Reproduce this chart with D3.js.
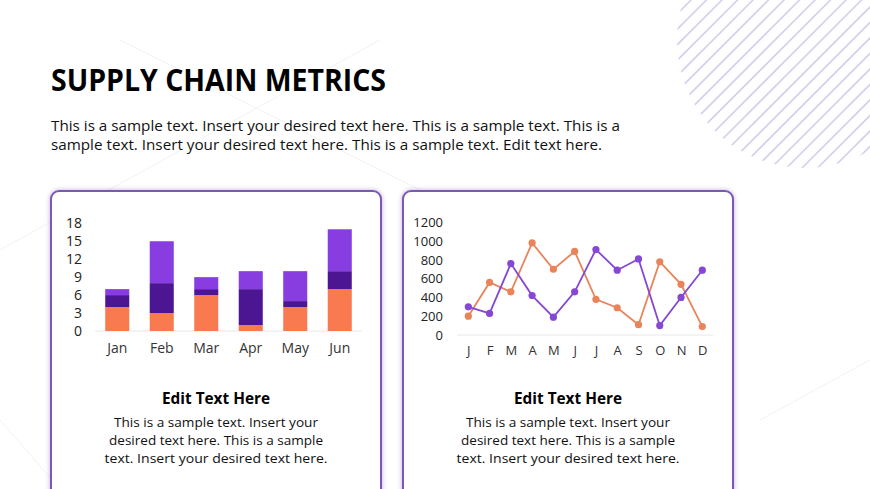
<!DOCTYPE html>
<html>
<head>
<meta charset="utf-8">
<script src="https://cdn.jsdelivr.net/npm/d3@7"></script>
<style>
  body { margin: 0; background: #fff; }
  svg { display: block; font-family: "Open Sans", "Noto Sans", sans-serif; }
</style>
</head>
<body>
<script>
var barMonths = ["Jan", "Feb", "Mar", "Apr", "May", "Jun"],
    barOrange = [4, 3, 6, 1, 4, 7],
    barDark = [2, 5, 1, 6, 1, 3],
    barLight = [1, 7, 2, 3, 5, 7],
    barTicks = [0, 3, 6, 9, 12, 15, 18];

var lineMonths = ["J", "F", "M", "A", "M", "J", "J", "A", "S", "O", "N", "D"],
    lineOrange = [200, 560, 460, 980, 700, 890, 380, 290, 110, 780, 540, 90],
    linePurple = [300, 230, 760, 420, 190, 460, 910, 690, 810, 100, 400, 690],
    lineTicks = [0, 200, 400, 600, 800, 1000, 1200];

var w = 870,
    h = 489;

var svg = d3.select("body")
    .append("svg")
    .attr("width", w)
    .attr("height", h);

var defs = svg.append("defs");
defs.append("clipPath")
    .attr("id", "circleClip")
    .append("circle")
    .attr("cx", 805)
    .attr("cy", 40)
    .attr("r", 128);

var shadow = defs.append("filter")
    .attr("id", "glow")
    .attr("x", "-10%").attr("y", "-10%")
    .attr("width", "120%").attr("height", "120%");
shadow.append("feDropShadow")
    .attr("dx", 0).attr("dy", 0)
    .attr("stdDeviation", 2.5)
    .attr("flood-color", "#b49ad8")
    .attr("flood-opacity", 0.8);

// faint background lines
var faint = [[0, 250, 380, 40], [120, 40, 560, 260], [330, 310, 180, 420], [520, 330, 720, 489], [0, 420, 60, 489], [760, 420, 870, 360]];
svg.selectAll(".faint")
    .data(faint)
    .enter()
    .append("line")
    .attr("x1", function (d) { return d[0]; })
    .attr("y1", function (d) { return d[1]; })
    .attr("x2", function (d) { return d[2]; })
    .attr("y2", function (d) { return d[3]; })
    .attr("stroke", "#f2f2f2")
    .attr("stroke-width", 1);

// striped circle top right
var stripes = svg.append("g").attr("clip-path", "url(#circleClip)");
for (var k = 0; k < 30; k++) {
    var off = 660 + k * 15.5;
    stripes.append("line")
        .attr("x1", off - 200)
        .attr("y1", 200)
        .attr("x2", off + 20)
        .attr("y2", -20)
        .attr("stroke", "#d6cfec")
        .attr("stroke-width", 1.6);
}

// title and intro
svg.append("text")
    .attr("x", 51)
    .attr("y", 91)
    .attr("font-size", 30)
    .attr("font-weight", 700)
    .attr("fill", "#000")
    .attr("textLength", 335)
    .attr("lengthAdjust", "spacingAndGlyphs")
    .text("SUPPLY CHAIN METRICS");

var intro = [
    ["This is a sample text. Insert your desired text here. This is a sample text. This is a", 569],
    ["sample text. Insert your desired text here. This is a sample text. Edit text here.", 551]
];
svg.selectAll(".intro")
    .data(intro)
    .enter()
    .append("text")
    .attr("x", 51)
    .attr("y", function (d, i) { return 130.5 + i * 19.5; })
    .attr("font-size", 14.5)
    .attr("fill", "#111")
    .attr("textLength", function (d) { return d[1]; })
    .attr("lengthAdjust", "spacingAndGlyphs")
    .text(function (d) { return d[0]; });

// cards
var cards = [51, 403];
svg.selectAll(".card")
    .data(cards)
    .enter()
    .append("rect")
    .attr("x", function (d) { return d; })
    .attr("y", 191)
    .attr("width", 330)
    .attr("height", 330)
    .attr("rx", 8)
    .attr("fill", "#fff")
    .attr("stroke", "#7d58b3")
    .attr("stroke-width", 2)
    .attr("filter", "url(#glow)");

var cardBody = [
    ["This is a sample text. Insert your", 204],
    ["desired text here. This is a sample", 214],
    ["text. Insert your desired text here.", 223]
];
cards.forEach(function (cx) {
    var mid = cx + 165;
    svg.append("text")
        .attr("x", mid)
        .attr("y", 404)
        .attr("text-anchor", "middle")
        .attr("font-size", 16)
        .attr("font-weight", 700)
        .attr("fill", "#000")
        .attr("textLength", 108)
        .attr("lengthAdjust", "spacingAndGlyphs")
        .text("Edit Text Here");
    cardBody.forEach(function (d, i) {
        svg.append("text")
            .attr("x", mid)
            .attr("y", 427 + i * 18)
            .attr("text-anchor", "middle")
            .attr("font-size", 13.5)
            .attr("fill", "#111")
            .attr("textLength", d[1])
            .attr("lengthAdjust", "spacingAndGlyphs")
            .text(d[0]);
    });
});

// stacked bar chart
var xBar = d3.scaleBand()
    .domain(barMonths)
    .range([95, 362])
    .paddingInner(0.46)
    .paddingOuter(0.23);

var yBar = d3.scaleLinear()
    .domain([0, 18])
    .range([331, 223.3]);

var barRows = barMonths.map(function (m, i) {
    return { month: m, orange: barOrange[i], dark: barDark[i], light: barLight[i] };
});
var stack = d3.stack().keys(["orange", "dark", "light"])(barRows);
var barColors = { orange: "#fa7a4f", dark: "#4c1592", light: "#873de0" };

svg.append("line")
    .attr("x1", 95).attr("x2", 362)
    .attr("y1", yBar(0)).attr("y2", yBar(0))
    .attr("stroke", "#e8e8e8")
    .attr("stroke-width", 1);

svg.append("g")
    .selectAll("g")
    .data(stack)
    .enter()
    .append("g")
    .attr("fill", function (d) { return barColors[d.key]; })
    .selectAll("rect")
    .data(function (d) { return d; })
    .enter()
    .append("rect")
    .attr("x", function (d) { return xBar(d.data.month); })
    .attr("y", function (d) { return yBar(d[1]); })
    .attr("width", xBar.bandwidth())
    .attr("height", function (d) { return yBar(d[0]) - yBar(d[1]); });

var barYAxis = svg.append("g")
    .attr("transform", "translate(82,0)")
    .call(d3.axisLeft(yBar).tickValues(barTicks).tickSize(0).tickPadding(0));
barYAxis.select(".domain").remove();
barYAxis.selectAll("text")
    .attr("font-size", 14)
    .attr("font-family", "'Open Sans', sans-serif")
    .attr("fill", "#222");

var barXAxis = svg.append("g")
    .attr("transform", "translate(0,343)")
    .call(d3.axisBottom(xBar).tickSize(0).tickPadding(0));
barXAxis.select(".domain").remove();
barXAxis.selectAll("text")
    .attr("font-size", 14)
    .attr("font-family", "'Open Sans', sans-serif")
    .attr("fill", "#333");

// line chart
var xLine = d3.scalePoint()
    .domain(d3.range(lineMonths.length))
    .range([468.3, 702.3]);

var yLine = d3.scaleLinear()
    .domain([0, 1200])
    .range([335, 222.3]);

svg.append("line")
    .attr("x1", 457).attr("x2", 713)
    .attr("y1", yLine(0)).attr("y2", yLine(0))
    .attr("stroke", "#e8e8e8")
    .attr("stroke-width", 1);

var lineGen = d3.line()
    .x(function (d, i) { return xLine(i); })
    .y(function (d) { return yLine(d); });

var lineSeries = [
    { values: lineOrange, color: "#e9845a" },
    { values: linePurple, color: "#8547d4" }
];

lineSeries.forEach(function (s) {
    svg.append("path")
        .datum(s.values)
        .attr("d", lineGen)
        .attr("fill", "none")
        .attr("stroke", s.color)
        .attr("stroke-width", 1.8);
    svg.append("g")
        .selectAll("circle")
        .data(s.values)
        .enter()
        .append("circle")
        .attr("cx", function (d, i) { return xLine(i); })
        .attr("cy", function (d) { return yLine(d); })
        .attr("r", 3.6)
        .attr("fill", s.color);
});

var lineYAxis = svg.append("g")
    .attr("transform", "translate(443,0)")
    .call(d3.axisLeft(yLine).tickValues(lineTicks).tickFormat(d3.format("d")).tickSize(0).tickPadding(0));
lineYAxis.select(".domain").remove();
lineYAxis.selectAll("text")
    .attr("font-size", 13)
    .attr("font-family", "'Open Sans', sans-serif")
    .attr("fill", "#222");

var lineXAxis = svg.append("g")
    .attr("transform", "translate(0,346)")
    .call(d3.axisBottom(xLine).tickFormat(function (i) { return lineMonths[i]; }).tickSize(0).tickPadding(0));
lineXAxis.select(".domain").remove();
lineXAxis.selectAll("text")
    .attr("font-size", 13)
    .attr("font-family", "'Open Sans', sans-serif")
    .attr("fill", "#333");
</script>
</body>
</html>
